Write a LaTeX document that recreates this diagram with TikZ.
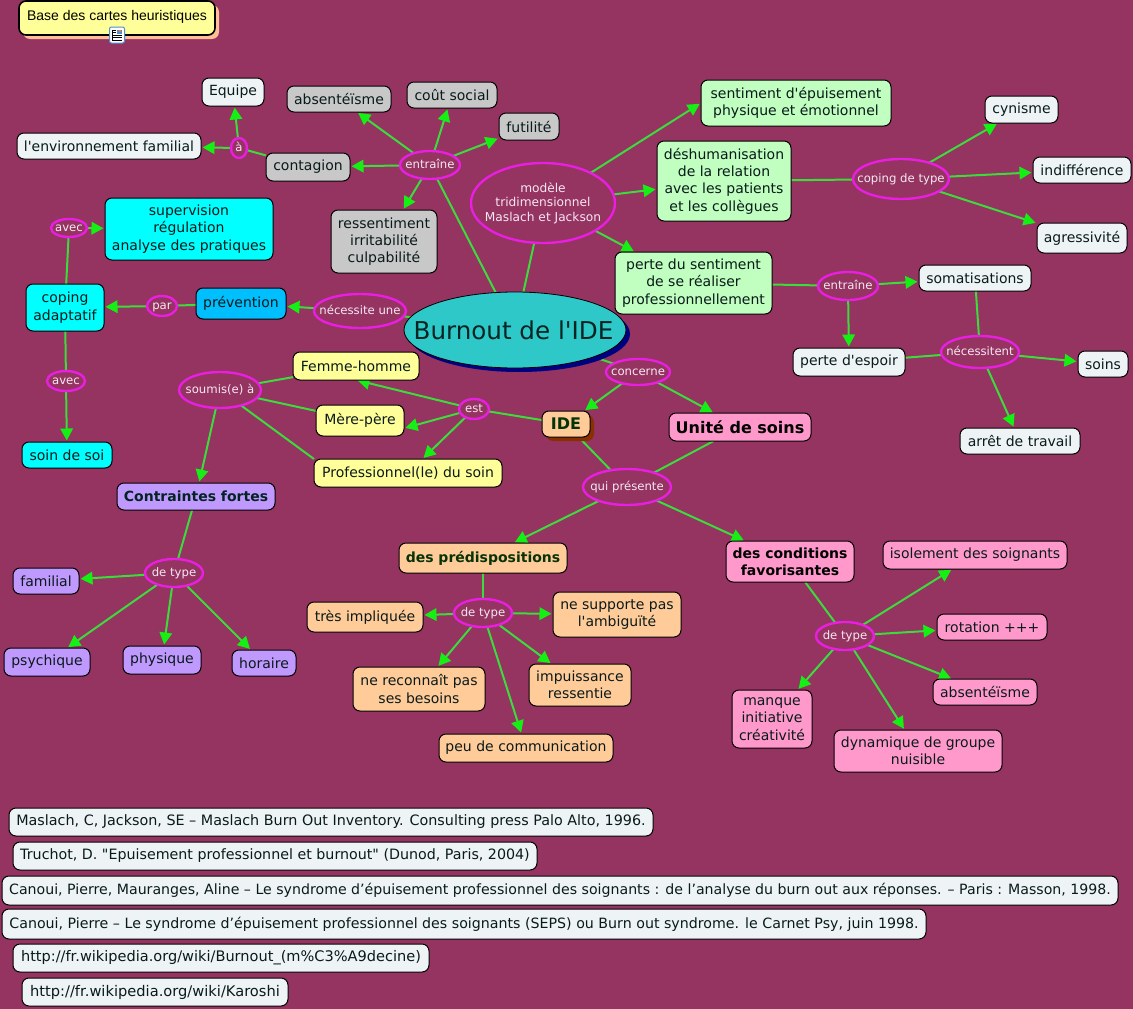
\documentclass[tikz,border=0pt]{standalone}
\usepackage{fontspec}
\setmainfont{DejaVu Sans}[Ligatures=TeXOff]
\newfontfamily\basefont{Liberation Sans}
\usetikzlibrary{arrows.meta,shapes.geometric,shadows}
\definecolor{pagebg}{HTML}{953361}
\definecolor{lnk}{HTML}{3CDC3C}
\definecolor{tipc}{HTML}{14F014}
\definecolor{ring}{HTML}{E81EE0}
\definecolor{linktext}{HTML}{F6E8F2}
\definecolor{cwhite}{HTML}{EEF4F6}
\definecolor{cgrey}{HTML}{C8C8C8}
\definecolor{cgreen}{HTML}{C0FFC0}
\definecolor{ccyan}{HTML}{00FFFF}
\definecolor{cblue}{HTML}{00BFFF}
\definecolor{cyellow}{HTML}{FFFF99}
\definecolor{cpink}{HTML}{FF99CC}
\definecolor{cpurple}{HTML}{C099FF}
\definecolor{corange}{HTML}{FFCC99}
\definecolor{cteal}{HTML}{2EC8C8}
\definecolor{txt}{HTML}{0A1A1A}
\definecolor{dgreen}{HTML}{063306}
\definecolor{dteal}{HTML}{042424}
\definecolor{peach}{HTML}{FFBE96}
\definecolor{navy}{HTML}{000080}
\definecolor{brick}{HTML}{8A3000}
\definecolor{iconblue}{HTML}{4C8FD0}
\pgfdeclarelayer{pagelayer}
\pgfdeclarelayer{edges}
\pgfsetlayers{pagelayer,edges,main}
\tikzset{
  cbox/.style={draw=black,line width=1pt,rounded corners=7pt,inner sep=0pt,outer sep=0pt,align=center,text=txt,font=\fontsize{14}{17.3}\selectfont},
  boldbox/.style={cbox,font=\fontsize{14}{17.3}\selectfont\bfseries},
  refbox/.style={cbox,fill=cwhite,font=\fontsize{#1}{17.3}\selectfont},
  clink/.style={ellipse,draw=ring,line width=2.4pt,fill=pagebg,inner sep=0pt,outer sep=0pt,text=linktext,font=\fontsize{11.7}{14.5}\selectfont},
  ln/.style={draw=lnk,line width=2pt},
  arr/.style={ln,shorten >=1.5pt,-{Triangle[length=12pt,width=12.5pt,color=tipc]}},
}
\newcommand{\cmbox}[7]{%
  \pgfmathsetmacro{\cmw}{#4-#2}\pgfmathsetmacro{\cmh}{#5-#3}%
  \pgfmathsetmacro{\cmx}{(#2+#4)/2}\pgfmathsetmacro{\cmy}{(#3+#5)/2}%
  \node[#6,minimum width=\cmw pt,minimum height=\cmh pt] (#1) at (\cmx,\cmy) {#7};}
\newcommand{\cmlink}[6][]{%
  \node[clink,#1,minimum width=#4*2pt,minimum height=#5*2pt] (#2) at ({#3}) {\raisebox{-.67em}{\smash{\makebox[0pt]{\begin{tabular}[c]{@{}c@{}}#6\end{tabular}}}}};}
\begin{document}
\begin{tikzpicture}[x=1pt,y=-1pt]
\begin{pgfonlayer}{pagelayer}
\fill[pagebg] (0,0) rectangle (1133,1009);
\end{pgfonlayer}
\useasboundingbox (0,0) rectangle (1133,1009);

% header
\cmbox{base}{19}{1}{215}{35}{cbox,fill=cyellow,line width=1.6pt,rounded corners=7pt,font=\basefont\fontsize{14}{17}\selectfont,text=black,general shadow={fill=peach,shadow xshift=4pt,shadow yshift=-4pt}}{\raisebox{5pt}{Base des cartes heuristiques}}
\fill[white,draw=iconblue,line width=1pt,rounded corners=2pt] (109.5,27) rectangle (124.5,43);
\draw[black,line width=0.7pt] (112,30) -- (112,40) -- (122,40) (112,37.5) -- (122,37.5) (112,35) -- (122,35) (112,32.5) -- (116,32.5) (112,30) -- (116,30);
\fill[iconblue] (117,29.5) rectangle (122,34);
\fill[orange] (119,30) rectangle (121,32);

% left top cluster
\cmbox{equipe}{202}{78}{264}{106}{cbox,fill=cwhite}{\raisebox{3pt}{Equipe}}
\cmbox{envfam}{17}{133}{201}{159}{cbox,fill=cwhite}{l'environnement familial}
\cmbox{absent}{287}{86}{391}{112}{cbox,fill=cgrey}{absentéïsme}
\cmbox{cout}{407}{82}{497}{108}{cbox,fill=cgrey}{coût social}
\cmbox{futil}{499}{113}{559}{140}{cbox,fill=cgrey}{futilité}
\cmbox{contag}{266}{153}{350}{181}{cbox,fill=cgrey}{\raisebox{-1pt}{contagion}}
\cmbox{ressent}{331}{210}{437}{273}{cbox,fill=cgrey}{ressentiment\\irritabilité\\culpabilité}
\cmlink{entr}{430,165}{30}{14}{entraîne}
\cmlink{aa}{239,148}{8}{10}{à}

% right top cluster
\cmlink[font=\fontsize{12.2}{14.5}\selectfont]{modele}{543,203}{72}{40}{modèle\\tridimensionnel\\Maslach et Jackson}
\cmbox{sentim}{701}{80}{891}{126}{cbox,fill=cgreen}{sentiment d'épuisement\\physique et émotionnel}
\cmbox{deshum}{657}{141}{791}{221}{cbox,fill=cgreen}{déshumanisation\\de la relation\\avec les patients\\et les collègues}
\cmlink{copingt}{901,179}{48}{20}{coping de type}
\cmbox{cyn}{985}{96}{1058}{123}{cbox,fill=cwhite}{cynisme}
\cmbox{indif}{1033}{157}{1131}{183}{cbox,fill=cwhite}{indifférence}
\cmbox{agress}{1037}{223}{1127}{253}{cbox,fill=cwhite}{agressivité}
\cmbox{perte}{615}{252}{772}{314}{cbox,fill=cgreen}{perte du sentiment\\de se réaliser\\professionnellement}
\cmlink{entr2}{848,286}{30}{14}{entraîne}
\cmbox{somat}{919}{265}{1031}{291}{cbox,fill=cwhite}{somatisations}
\cmbox{espoir}{793}{348}{905}{376}{cbox,fill=cwhite}{perte d'espoir}
\cmlink{necess}{980,352}{39}{16}{nécessitent}
\cmbox{soins}{1078}{351}{1128}{377}{cbox,fill=cwhite}{soins}
\cmbox{arret}{960}{428}{1080}{454}{cbox,fill=cwhite}{arrêt de travail}

% centre
\node[ellipse,draw=black,line width=0.8pt,fill=cteal,minimum width=222pt,minimum height=76pt,inner sep=0pt,outer sep=0pt,text=dteal,font=\fontsize{24.6}{28}\selectfont,general shadow={fill=navy,shadow xshift=4pt,shadow yshift=-4pt}] (burn) at (515,330) {\hspace{-3pt}\makebox[0pt]{Burnout de l'IDE}};
\cmlink{conc}{638,372}{32}{13}{concerne}
\cmbox{ide}{542}{411}{590}{437}{boldbox,fill=corange,text=dgreen,font=\fontsize{16}{18}\selectfont\bfseries,general shadow={fill=brick,shadow xshift=4pt,shadow yshift=-4pt}}{IDE}
\cmbox{unite}{669}{413}{811}{441}{boldbox,fill=cpink,text=black,font=\fontsize{16}{18}\selectfont\bfseries}{Unité de soins}
\cmlink{est}{474,409}{15}{10}{est}
\cmbox{femme}{293}{352}{419}{380}{cbox,fill=cyellow}{Femme-homme}
\cmbox{mere}{316}{405}{404}{436}{cbox,fill=cyellow}{Mère-père}
\cmbox{profes}{314}{459}{502}{487}{cbox,fill=cyellow}{Professionnel(le) du soin}
\cmlink{soumis}{220,390}{41}{18}{soumis(e) à}
\cmbox{contr}{117}{483}{275}{510}{boldbox,fill=cpurple,text=dteal}{Contraintes fortes}
\cmlink{typea}{174,573}{29}{14}{de type}
\cmbox{famil}{13}{568}{79}{594}{cbox,fill=cpurple}{familial}
\cmbox{psych}{4}{648}{90}{676}{cbox,fill=cpurple}{psychique}
\cmbox{physi}{123}{646}{201}{674}{cbox,fill=cpurple}{physique}
\cmbox{horai}{232}{650}{296}{676}{cbox,fill=cpurple}{horaire}

% bottom centre
\cmlink{quip}{627,487}{44}{18}{qui présente}
\cmbox{predis}{399}{543}{567}{573}{boldbox,fill=corange,text=dgreen}{des prédispositions}
\cmlink{typeb}{483,613}{29}{14}{de type}
\cmbox{impliq}{307}{602}{423}{632}{cbox,fill=corange}{très impliquée}
\cmbox{ambig}{553}{592}{681}{637}{cbox,fill=corange}{ne supporte pas\\l'ambiguïté}
\cmbox{reconn}{353}{667}{485}{711}{cbox,fill=corange}{ne reconnaît pas\\ses besoins}
\cmbox{impuis}{529}{664}{631}{706}{cbox,fill=corange}{impuissance\\ressentie}
\cmbox{commun}{439}{734}{613}{762}{cbox,fill=corange}{peu de communication}
\cmbox{condi}{726}{541}{854}{582}{boldbox,fill=cpink,text=black}{des conditions\\favorisantes}
\cmlink{typec}{845,636}{29}{14}{de type}
\cmbox{isol}{883}{541}{1067}{569}{cbox,fill=cpink}{isolement des soignants}
\cmbox{rotat}{937}{614}{1047}{640}{cbox,fill=cpink}{rotation +++}
\cmbox{absent2}{933}{679}{1037}{705}{cbox,fill=cpink}{absentéïsme}
\cmbox{dynam}{834}{730}{1002}{772}{cbox,fill=cpink}{dynamique de groupe\\nuisible}
\cmbox{manque}{732}{690}{812}{748}{cbox,fill=cpink}{manque\\initiative\\créativité}

% left
\cmlink{neces}{360,311}{46}{17}{nécessite une}
\cmbox{prev}{196}{288}{286}{319}{cbox,fill=cblue}{prévention}
\cmlink{par}{162,306}{15}{10}{par}
\cmbox{copad}{26}{284}{104}{331}{cbox,fill=ccyan}{coping\\adaptatif}
\cmlink{avect}{69,228}{18}{9}{avec}
\cmbox{superv}{105}{198}{273}{260}{cbox,fill=ccyan}{supervision\\régulation\\analyse des pratiques}
\cmlink{avecb}{66,381}{19}{10}{avec}
\cmbox{soinsoi}{22}{442}{112}{468}{cbox,fill=ccyan}{soin de soi}

% references
\cmbox{ref1}{9}{808}{653}{836}{refbox=14.33}{Maslach, C, Jackson, SE – Maslach Burn Out Inventory. Consulting press Palo Alto, 1996.}
\cmbox{ref2}{13}{842}{537}{870}{refbox=14.25}{Truchot, D. "Epuisement professionnel et burnout" (Dunod, Paris, 2004)}
\cmbox{ref3}{2}{876}{1118}{905}{refbox=14.15}{Canoui, Pierre, Mauranges, Aline – Le syndrome d’épuisement professionnel des soignants : de l’analyse du burn out aux réponses. – Paris : Masson, 1998.}
\cmbox{ref4}{2}{909}{926}{939}{refbox=14.2}{Canoui, Pierre – Le syndrome d’épuisement professionnel des soignants (SEPS) ou Burn out syndrome. le Carnet Psy, juin 1998.}
\cmbox{ref5}{13}{944}{429}{972}{refbox=14.55}{http://fr.wikipedia.org/wiki/Burnout\_(m\%C3\%A9decine)}
\cmbox{ref6}{22}{978}{288}{1006}{refbox=14.65}{http://fr.wikipedia.org/wiki/Karoshi}

\begin{pgfonlayer}{edges}
\draw[ln] (burn) -- (entr);
\draw[ln] (burn) -- (modele);
\draw[ln] (burn) -- (neces);
\draw[ln] (burn) -- (conc);
\draw[arr] (entr) -- (contag);
\draw[arr] (entr) -- (absent);
\draw[arr] (entr) -- (cout);
\draw[arr] (entr) -- (futil);
\draw[arr] (entr) -- (ressent);
\draw[ln] (contag) -- (aa);
\draw[arr] (aa) -- (equipe);
\draw[arr] (aa) -- (envfam);
\draw[arr] (modele) -- (sentim.west);
\draw[arr] (modele) -- (deshum);
\draw[arr] (modele) -- (perte);
\draw[ln] (deshum) -- (copingt);
\draw[arr] (copingt) -- (cyn);
\draw[arr] (copingt) -- (indif);
\draw[arr] (copingt) -- (agress);
\draw[ln] (perte) -- (entr2);
\draw[arr] (entr2) -- (somat);
\draw[arr] (entr2) -- (espoir);
\draw[ln] (somat) -- (necess);
\draw[ln] (espoir) -- (necess);
\draw[arr] (necess) -- (soins);
\draw[arr] (necess) -- (arret);
\draw[arr] (conc) -- (ide);
\draw[arr] (conc) -- (unite);
\draw[ln] (ide) -- (est);
\draw[arr] (est) -- (femme.south);
\draw[arr] (est) -- (mere.-10);
\draw[arr] (est) -- (profes);
\draw[ln] (femme) -- (soumis);
\draw[ln] (mere) -- (soumis);
\draw[ln] (profes.north west) -- (soumis);
\draw[arr] (soumis) -- (contr);
\draw[ln] (contr) -- (typea);
\draw[arr] (typea) -- (famil);
\draw[arr] (typea) -- (psych);
\draw[arr] (typea) -- (physi);
\draw[arr] (typea) -- (horai);
\draw[ln] (ide) -- (quip);
\draw[ln] (unite) -- (quip);
\draw[arr] (quip) -- (predis);
\draw[arr] (quip) -- (condi);
\draw[ln] (predis) -- (typeb);
\draw[arr] (typeb) -- (impliq);
\draw[arr] (typeb) -- (ambig);
\draw[arr] (typeb) -- (reconn);
\draw[arr] (typeb) -- (impuis);
\draw[arr] (typeb) -- (commun);
\draw[ln] (condi) -- (typec);
\draw[arr] (typec) -- (isol);
\draw[arr] (typec) -- (rotat);
\draw[arr] (typec) -- (absent2);
\draw[arr] (typec) -- (dynam);
\draw[arr] (typec) -- (manque);
\draw[arr] (neces) -- (prev);
\draw[ln] (prev) -- (par);
\draw[arr] (par) -- (copad);
\draw[ln] (copad) -- (avect);
\draw[arr] (avect) -- (superv);
\draw[ln] (copad) -- (avecb);
\draw[arr] (avecb) -- (soinsoi);
\end{pgfonlayer}
\end{tikzpicture}
\end{document}
